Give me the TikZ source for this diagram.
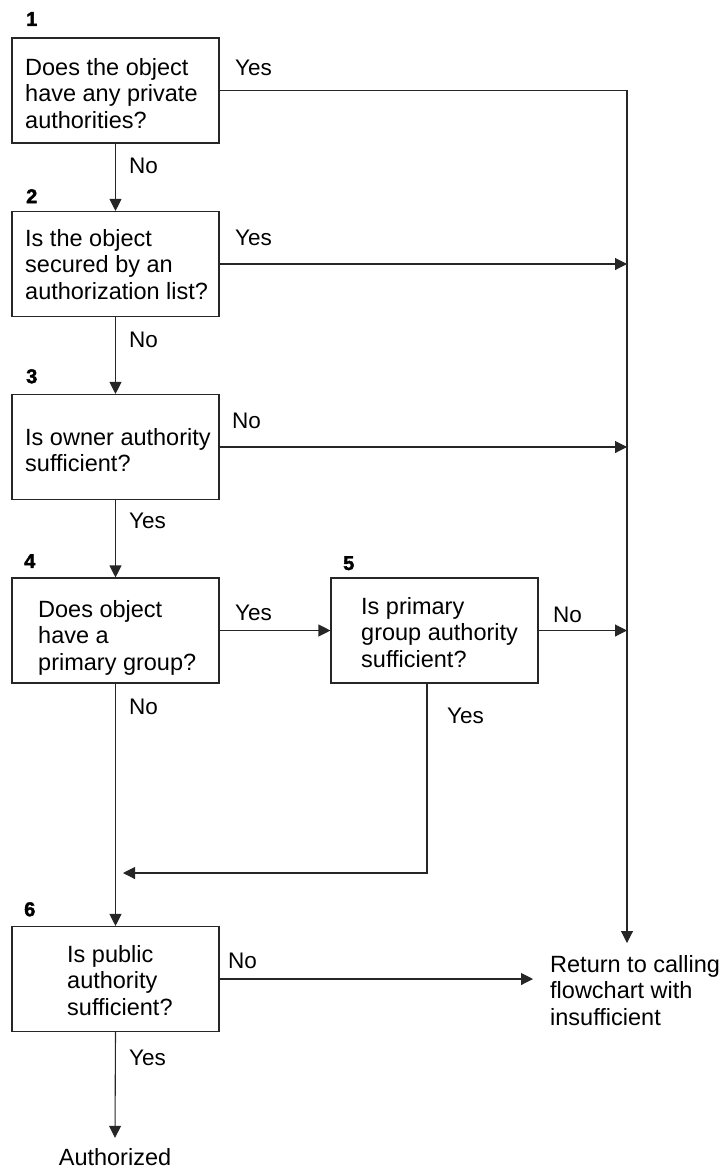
\documentclass[tikz,border=0pt]{standalone}
\usepackage{fontspec}
\setmainfont{Liberation Sans}
\newfontfamily\numfont{Liberation Sans}[BoldFeatures={FakeBold=2}]
\usetikzlibrary{arrows.meta}
\begin{document}
\begin{tikzpicture}[x=1pt,y=-1pt,
  box/.style={draw=black!85, line width=1.1pt, rectangle, minimum width=207pt, minimum height=105pt, inner sep=0pt},
  txt/.style={anchor=north west, inner sep=0pt, align=left, font=\fontsize{23.5}{26.5}\selectfont},
  lbl/.style={anchor=north west, inner sep=0pt, font=\fontsize{22.5}{26}\selectfont},
  num/.style={anchor=north west, inner sep=0pt, font=\numfont\fontsize{20}{22}\selectfont\bfseries},
  conn/.style={line width=1.1pt, draw=black!85},
  arr/.style={conn, -{Triangle[length=12pt,width=12pt]}},
]
\useasboundingbox (0,0) rectangle (723,1168);

% boxes
\node[box] (b1) at (115.5,90.5) {};
\node[box] (b2) at (115.5,264) {};
\node[box] (b3) at (115.5,447) {};
\node[box] (b4) at (115.5,630.5) {};
\node[box] (b5) at (434.5,630.5) {};
\node[box] (b6) at (115.5,979) {};

% box texts
\node[txt] (t1) at (25,58) {Does the object\\have any private\\authorities?};
\node[txt] (t2) at (25,229) {Is the object\\secured by an\\authorization list?};
\node[txt] (t3) at (25,428) {Is owner authority\\sufficient?};
\node[txt] (t4) at (38,600) {Does object\\have a\\primary group?};
\node[txt] (t5) at (361,597) {Is primary\\group authority\\sufficient?};
\node[txt] (t6) at (67,945) {Is public\\authority\\sufficient?};
\node[txt] (ret) at (550,955) {Return to calling\\flowchart with\\insufficient};
\node[anchor=base, inner sep=0pt, font=\fontsize{23.5}{26.5}\selectfont] (auth) at (115,1165) {Authorized};

% step numbers
\node[num] (n1) at (26,12) {1};
\node[num] (n2) at (26,189) {2};
\node[num] (n3) at (26,369) {3};
\node[num] (n4) at (24,554) {4};
\node[num] (n5) at (343,556) {5};
\node[num] (n6) at (24,902) {6};

% labels
\node[lbl] (l1y) at (235,60) {Yes};
\node[lbl] (l1n) at (129,158) {No};
\node[lbl] (l2y) at (235,230) {Yes};
\node[lbl] (l2n) at (129,332) {No};
\node[lbl] (l3n) at (232,413) {No};
\node[lbl] (l3y) at (129,513) {Yes};
\node[lbl] (l4y) at (235,605) {Yes};
\node[lbl] (l4n) at (129,699) {No};
\node[lbl] (l5n) at (553,607) {No};
\node[lbl] (l5y) at (447,708) {Yes};
\node[lbl] (l6n) at (228,953) {No};
\node[lbl] (l6y) at (129,1050) {Yes};

% helper coordinates
\coordinate (rtop) at (627,943);
\coordinate (y5) at (427,873);
\coordinate (merge) at (123,873);
\coordinate (rin) at (533,982);

% connectors
\draw[arr] (b1.south) -- (b2.north);
\draw[arr] (b2.south) -- (b3.north);
\draw[arr] (b3.south) -- (b4.north);
\draw[arr] (b4.south) -- (b6.north);
\draw[arr] (b4.east) -- (b5.west);
\draw[arr] (b1.east) -- (b1.east -| rtop) -- (rtop);
\draw[arr] (b2.east) -- (b2.east -| rtop);
\draw[arr] (b3.east) -- (b3.east -| rtop);
\draw[arr] (b5.east) -- (b5.east -| rtop);
\draw[arr] (b5.south -| y5) -- (y5) -- (merge);
\draw[arr] (b6.east) -- (b6.east -| rin);
\draw[arr] (b6.south) -- ([yshift=10pt]auth.north);
\end{tikzpicture}
\end{document}
